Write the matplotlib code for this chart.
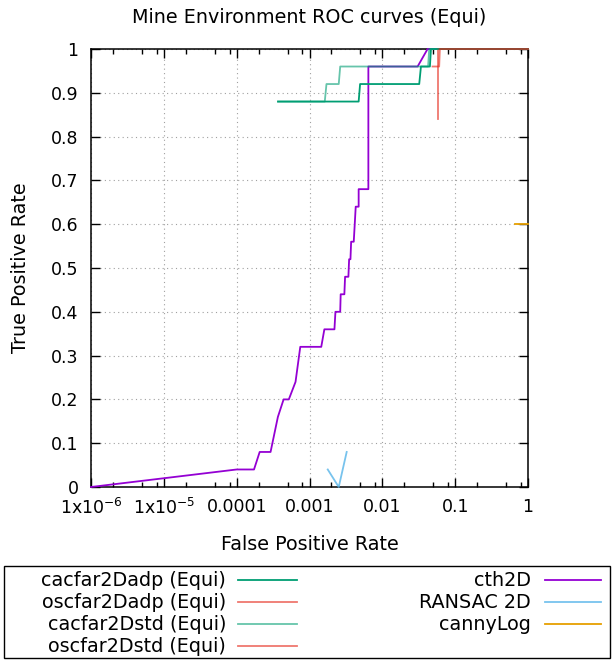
import matplotlib
matplotlib.use("Agg")
import matplotlib.pyplot as plt
from matplotlib.ticker import FixedLocator, FixedFormatter, LogLocator, NullFormatter
from matplotlib.lines import Line2D
from matplotlib.patches import Rectangle

# values
cth_fpr = [1e-6, 1.0e-4, 1.73e-4, 2.07e-4, 2.92e-4, 3.68e-4, 4.41e-4, 5.2e-4, 6.43e-4,
           7.47e-4, 1.45e-3, 1.60e-3, 2.20e-3, 2.27e-3, 2.64e-3, 2.68e-3, 3.01e-3, 3.08e-3,
           3.42e-3, 3.50e-3, 3.65e-3, 3.73e-3, 4.05e-3, 4.18e-3, 4.31e-3, 4.73e-3, 4.73e-3,
           6.43e-3, 6.43e-3, 0.0305, 0.0418, 1.0]
cth_tpr = [0, 0.04, 0.04, 0.08, 0.08, 0.16, 0.20, 0.20, 0.24, 0.32, 0.32, 0.36, 0.36,
           0.40, 0.40, 0.44, 0.44, 0.48, 0.48, 0.52, 0.52, 0.56, 0.56, 0.60, 0.64, 0.64,
           0.68, 0.68, 0.96, 0.96, 1.0, 1.0]

cacadp_fpr = [3.7e-4, 4.73e-3, 4.95e-3, 0.0321, 0.0339, 0.045, 0.0465, 1.0]
cacadp_tpr = [0.88, 0.88, 0.92, 0.92, 0.96, 0.96, 1.0, 1.0]

cacstd_fpr = [3.7e-4, 1.62e-3, 1.71e-3, 2.52e-3, 2.64e-3, 0.0425, 0.044, 1.0]
cacstd_tpr = [0.88, 0.88, 0.92, 0.92, 0.96, 0.96, 1.0, 1.0]

osadp_fpr = [0.0585, 0.0585, 1.0]
osadp_tpr = [0.84, 1.0, 1.0]

osstd_fpr = [0.0489, 0.0603, 0.0616, 1.0]
osstd_tpr = [0.96, 0.96, 1.0, 1.0]

ransac_fpr = [1.78e-3, 2.52e-3, 3.24e-3]
ransac_tpr = [0.04, 0.0, 0.08]

canny_fpr = [0.658, 1.0]
canny_tpr = [0.6, 0.6]

xtick_vals = [1e-6, 1e-5, 1e-4, 1e-3, 1e-2, 1e-1, 1]
xtick_labels = ["1x10$^{-6}$", "1x10$^{-5}$", "0.0001", "0.001", "0.01", "0.1", "1"]
ytick_vals = [0, 0.1, 0.2, 0.3, 0.4, 0.5, 0.6, 0.7, 0.8, 0.9, 1]
ytick_labels = ["0", "0.1", "0.2", "0.3", "0.4", "0.5", "0.6", "0.7", "0.8", "0.9", "1"]

plt.rcParams["font.family"] = ["DejaVu Sans"]
plt.rcParams["font.size"] = 12.5
plt.rcParams["mathtext.default"] = "regular"

W, H = 612, 660
fig = plt.figure(figsize=(W / 100, H / 100), dpi=100)
ax = fig.add_axes([91 / W, 1 - 487 / H, (528 - 91) / W, (487 - 49) / H])

series = [
    ("cacfar2Dadp (Equi)", cacadp_fpr, cacadp_tpr, "#009e73", 1.0),
    ("oscfar2Dadp (Equi)", osadp_fpr, osadp_tpr, "#e51e10", 0.6),
    ("cacfar2Dstd (Equi)", cacstd_fpr, cacstd_tpr, "#009e73", 0.6),
    ("oscfar2Dstd (Equi)", osstd_fpr, osstd_tpr, "#e51e10", 0.6),
    ("cth2D", cth_fpr, cth_tpr, "#9400d3", 1.0),
    ("RANSAC 2D", ransac_fpr, ransac_tpr, "#56b4e9", 0.8),
    ("cannyLog", canny_fpr, canny_tpr, "#e69f00", 1.0),
]
for name, xs, ys, c, a in series:
    z = 2.6 if name == "cth2D" else 3
    ax.plot(xs, ys, color=c, alpha=a, lw=1.3, clip_on=False, zorder=z)

ax.set_xscale("log")
ax.set_xlim(1e-6, 1)
ax.set_ylim(0, 1)
ax.xaxis.set_major_locator(FixedLocator(xtick_vals))
ax.xaxis.set_major_formatter(FixedFormatter(xtick_labels))
ax.xaxis.set_minor_locator(LogLocator(base=10, subs=[2, 5, 8]))
ax.xaxis.set_minor_formatter(NullFormatter())
ax.yaxis.set_major_locator(FixedLocator(ytick_vals))
ax.yaxis.set_major_formatter(FixedFormatter(ytick_labels))

ax.tick_params(which="both", direction="in", top=True, right=True, width=1, color="black")
ax.tick_params(which="major", length=6.5)
ax.tick_params(which="minor", length=3.5)
ax.tick_params(axis="x", which="major", pad=8)
ax.tick_params(axis="y", which="major", pad=9)
for s in ax.spines.values():
    s.set_linewidth(1.1)

ax.grid(True, which="major", color="#a0a0a0", lw=0.8, linestyle=(0, (1, 3)))
ax.set_axisbelow(True)

ax.set_title("Mine Environment ROC curves (Equi)", fontsize=13.8, pad=19)
ax.set_xlabel("False Positive Rate", fontsize=13.8, labelpad=12)
ax.set_ylabel("True Positive Rate", fontsize=13.8, labelpad=15)

# gnuplot-style key below the plot
lax = fig.add_axes([0, 0, 1, 1])
lax.set_xlim(0, W)
lax.set_ylim(H, 0)
lax.axis("off")
lax.add_patch(Rectangle((4, 566), 606, 92, fill=False, lw=1.0, ec="black"))
col_text_x = [226, 531]
col_line_x = [(238, 297), (545, 601)]
rows_y = [580, 602, 624, 646]
for i, (name, xs, ys, c, a) in enumerate(series):
    col = 0 if i < 4 else 1
    row = i if i < 4 else i - 4
    y = rows_y[row]
    lax.text(col_text_x[col], y, name, ha="right", va="center", fontsize=13.8)
    x0, x1 = col_line_x[col]
    lax.add_line(Line2D([x0, x1], [y, y], color=c, alpha=a, lw=1.3))

fig.savefig("out.png", dpi=100)
